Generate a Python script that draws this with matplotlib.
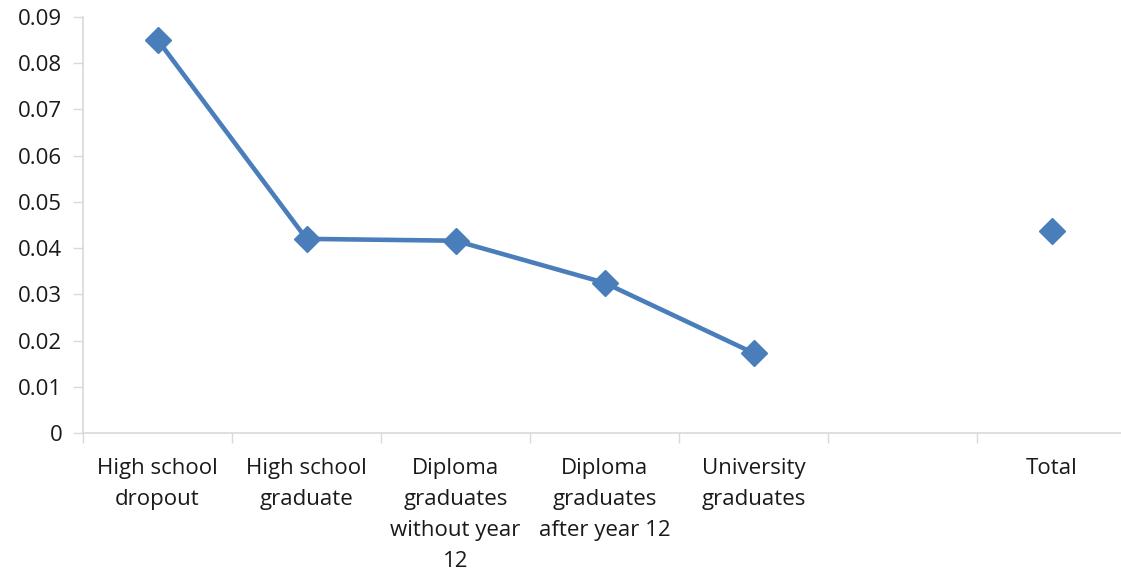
import matplotlib
matplotlib.use("Agg")
import matplotlib.pyplot as plt
import numpy as np

categories = [
    "High school\ndropout",
    "High school\ngraduate",
    "Diploma\ngraduates\nwithout year\n12",
    "Diploma\ngraduates\nafter year 12",
    "University\ngraduates",
    "",
    "Total",
]
line_values = [0.0851, 0.0420, 0.0416, 0.0325, 0.0173]
total_value = 0.0437
yticks = [0, 0.01, 0.02, 0.03, 0.04, 0.05, 0.06, 0.07, 0.08, 0.09]

blue = "#4a7ebb"
axis_grey = "#d9d9d9"

plt.rcParams["font.family"] = ["Open Sans", "DejaVu Sans"]

fig = plt.figure(figsize=(11.21, 5.77), dpi=100)
ax = fig.add_axes([83 / 1121, 0.2496, 1043 / 1121, 0.9705 - 0.2496])

x = np.arange(len(categories))
ax.plot(x[:len(line_values)], line_values, color=blue, linewidth=3.3,
        marker="D", markersize=13, markerfacecolor=blue, markeredgecolor=blue)
ax.plot([x[-1]], [total_value], linestyle="none", marker="D", markersize=13,
        color=blue)

ax.set_xlim(-0.5, len(categories) - 0.5)
ax.set_ylim(0, 0.09)
ax.set_yticks(yticks)
ax.set_yticklabels(["0"] + [f"{v:.2f}" for v in yticks[1:]])

ax.set_xticks(x)
ax.set_xticklabels(categories, linespacing=1.62, va="top")
ax.set_xticks(np.arange(len(categories) + 1) - 0.5, minor=True)
ax.tick_params(axis="x", which="major", length=0, pad=18)
ax.tick_params(axis="x", which="minor", length=7, color=axis_grey, width=1)
ax.tick_params(axis="y", length=7, color=axis_grey, width=1, pad=8)
ax.tick_params(labelsize=16, labelcolor="#1a1a1a")

for side in ["top", "right"]:
    ax.spines[side].set_visible(False)
for side in ["left", "bottom"]:
    ax.spines[side].set_color(axis_grey)
    ax.spines[side].set_linewidth(1.2)

fig.savefig("out.png", dpi=100)
